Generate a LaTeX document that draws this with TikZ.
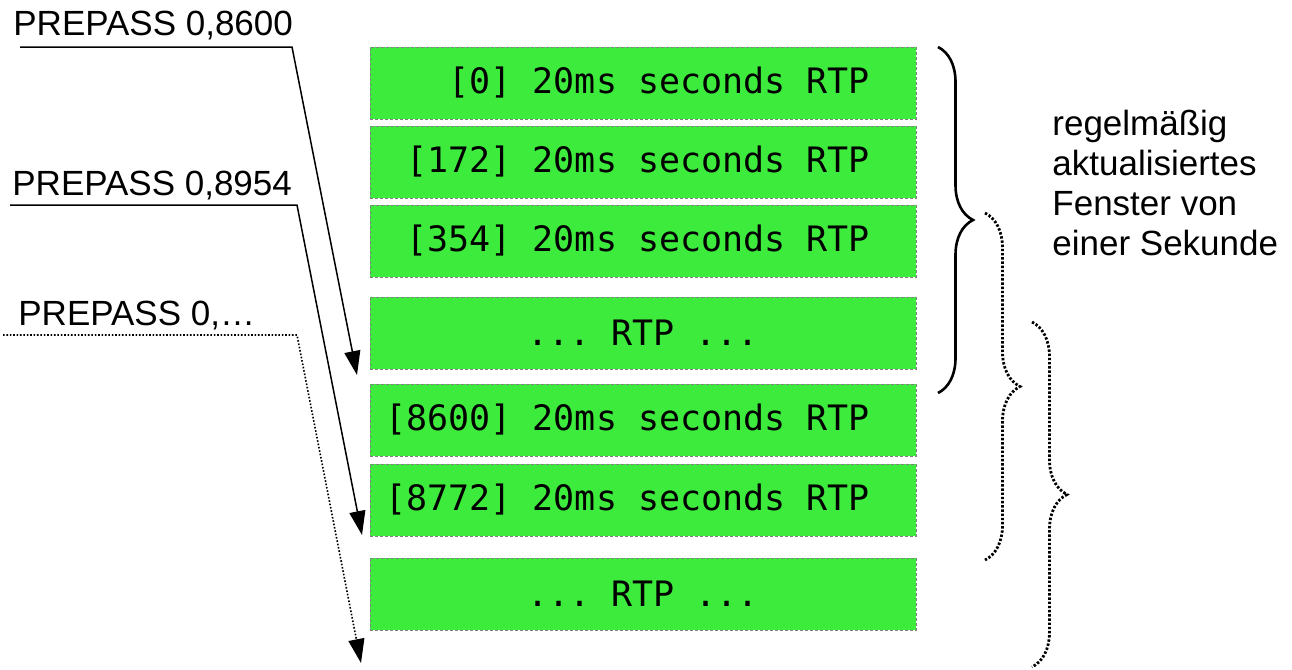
\documentclass[tikz,border=0pt]{standalone}
\usepackage{fontspec}
\setmainfont{Liberation Sans}
\setmonofont{DejaVu Sans Mono}
\usetikzlibrary{arrows.meta, positioning, decorations.pathreplacing}
\definecolor{rtpGreen}{RGB}{61, 235, 61}
\definecolor{frameGray}{RGB}{128, 128, 128}
\newcommand{\rtpline}[1]{\makebox[227pt][r]{#1}}

\begin{document}
\begin{tikzpicture}[
    x=0.5pt, y=-0.5pt,
    rtpbox/.style={rectangle, draw=frameGray, fill=rtpGreen, line width=0.5pt, dash pattern=on 1.5pt off 1pt, minimum width=273pt, minimum height=36pt, inner xsep=23pt, inner ysep=0pt, outer sep=0pt, font=\fontsize{17.5}{21}\selectfont\ttfamily},
    pass/.style={anchor=base west, inner sep=0pt, font=\fontsize{17.5}{20}\selectfont},
    link/.style={draw=black, line width=0.75pt, -{Triangle[length=12pt, width=8pt]}},
    vague/.style={link, line width=0.8pt, dash pattern=on 0.8pt off 0.9pt},
    window/.style={decorate, decoration={brace, amplitude=17.5pt}, line width=1.3pt},
    shifted/.style={window, line width=1.4pt, dash pattern=on 1.2pt off 0.9pt}
]
    \useasboundingbox (0,0) rectangle (1292,670);

    % RTP-Pakete
    \node (r1) [rtpbox] at (643,83) {\rtpline{[0] 20ms seconds RTP}};
    \node (r2) [rtpbox, below=3.5pt of r1] {\rtpline{[172] 20ms seconds RTP}};
    \node (r3) [rtpbox, below=3.5pt of r2] {\rtpline{[354] 20ms seconds RTP}};
    \node (r4) [rtpbox, below=10pt of r3] {... RTP ...};
    \node (r5) [rtpbox, below=7.5pt of r4] {\rtpline{[8600] 20ms seconds RTP}};
    \node (r6) [rtpbox, below=4pt of r5] {\rtpline{[8772] 20ms seconds RTP}};
    \node (r7) [rtpbox, below=11pt of r6] {... RTP ...};

    % Vorlauf-Marken
    \node (p1) [pass] at (13,35) {PREPASS 0,8600};
    \node (p2) [pass] at (12,195) {PREPASS 0,8954};
    \node (p3) [pass] at (18,325) {PREPASS 0,…};

    \node (note) [anchor=north west, inner sep=0pt, align=left, font=\fontsize{17.5}{20}\selectfont] at (1052,110)
        {regelmäßig\\aktualisiertes\\Fenster von\\einer Sekunde};

    \coordinate (s1) at (20,47);  \coordinate (k1) at (292,47);  \coordinate (t1) at (357,375);
    \coordinate (s2) at (10,205); \coordinate (k2) at (297,205); \coordinate (t2) at (362,535);
    \coordinate (s3) at (3,335);  \coordinate (k3) at (297,335); \coordinate (t3) at (361,663);

    % Verbindungen
    \draw [link] (s1) -- (k1) -- (t1);
    \draw [link] (s2) -- (k2) -- (t2);
    \draw [vague] (s3) -- (k3) -- (t3);

    % Klammern
    \draw [window] (938,47) -- (938,393);
    \draw [shifted] (985,213) -- (985,560);
    \draw [shifted] (1032,322) -- (1032,667);
\end{tikzpicture}
\end{document}
